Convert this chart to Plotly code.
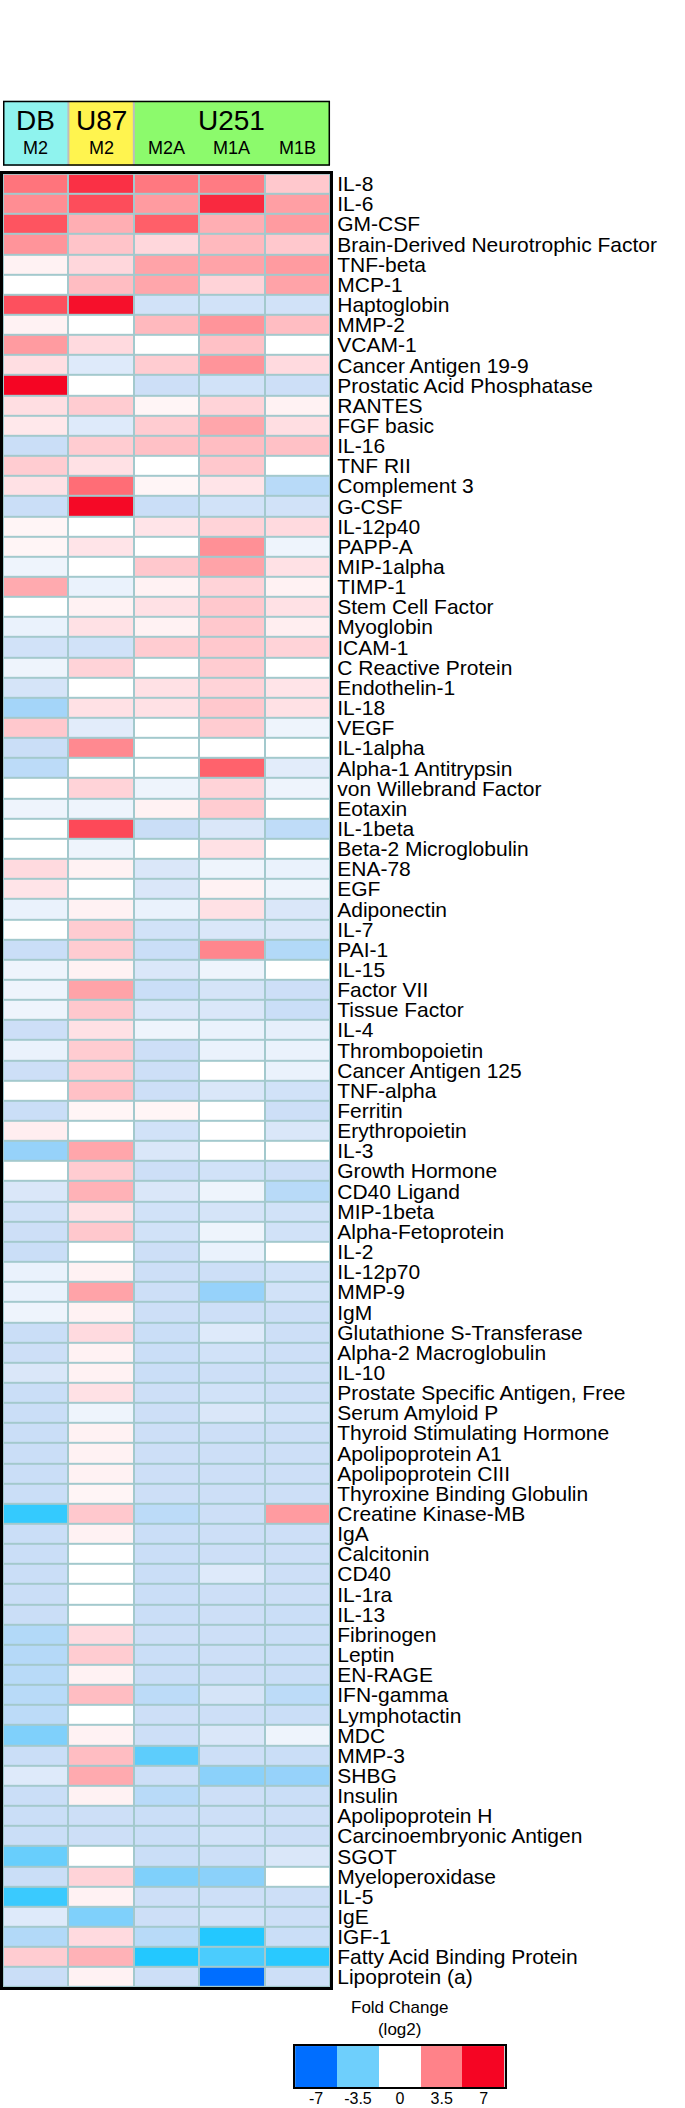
import plotly.graph_objects as go

W, H = 685, 2108

# column groups (cell line) and sub labels
groups = ["DB", "U87", "U251"]
group_span = [1, 1, 3]
group_colors = ["#8ff3ee", "#fff44f", "#8cfa6c"]
sub_labels = ["M2", "M2", "M2A", "M1A", "M1B"]

analytes = [
    "IL-8", "IL-6", "GM-CSF", "Brain-Derived Neurotrophic Factor", "TNF-beta",
    "MCP-1", "Haptoglobin", "MMP-2", "VCAM-1", "Cancer Antigen 19-9",
    "Prostatic Acid Phosphatase", "RANTES", "FGF basic", "IL-16", "TNF RII",
    "Complement 3", "G-CSF", "IL-12p40", "PAPP-A", "MIP-1alpha",
    "TIMP-1", "Stem Cell Factor", "Myoglobin", "ICAM-1", "C Reactive Protein",
    "Endothelin-1", "IL-18", "VEGF", "IL-1alpha", "Alpha-1 Antitrypsin",
    "von Willebrand Factor", "Eotaxin", "IL-1beta", "Beta-2 Microglobulin", "ENA-78",
    "EGF", "Adiponectin", "IL-7", "PAI-1", "IL-15",
    "Factor VII", "Tissue Factor", "IL-4", "Thrombopoietin", "Cancer Antigen 125",
    "TNF-alpha", "Ferritin", "Erythropoietin", "IL-3", "Growth Hormone",
    "CD40 Ligand", "MIP-1beta", "Alpha-Fetoprotein", "IL-2", "IL-12p70",
    "MMP-9", "IgM", "Glutathione S-Transferase", "Alpha-2 Macroglobulin", "IL-10",
    "Prostate Specific Antigen, Free", "Serum Amyloid P", "Thyroid Stimulating Hormone",
    "Apolipoprotein A1", "Apolipoprotein CIII",
    "Thyroxine Binding Globulin", "Creatine Kinase-MB", "IgA", "Calcitonin", "CD40",
    "IL-1ra", "IL-13", "Fibrinogen", "Leptin", "EN-RAGE",
    "IFN-gamma", "Lymphotactin", "MDC", "MMP-3", "SHBG",
    "Insulin", "Apolipoprotein H", "Carcinoembryonic Antigen", "SGOT", "Myeloperoxidase",
    "IL-5", "IgE", "IGF-1", "Fatty Acid Binding Protein", "Lipoprotein (a)",
]

# log2 fold change per column, estimated from the colours
db_m2 = [
    3.9, 3.2, 4.8, 3.0, 0.4, 0.0, 4.9, 0.4, 2.8, 1.0,
    7.0, 1.0, 0.7, -1.3, 1.5, 0.9, -1.3, 0.3, 0.3, -0.4,
    2.4, 0.0, -0.5, -1.1, -0.4, -1.0, -2.4, 1.6, -1.3, -1.7,
    0.0, -0.4, 0.0, 0.0, 1.1, 0.8, -0.5, 0.0, -1.3, -0.4,
    -0.4, -0.4, -1.2, -0.5, -1.2, 0.0, -1.3, 0.5, -2.8, 0.0,
    -0.9, -1.1, -1.2, -1.3, -0.5, -0.5, -0.4, -1.3, -1.2, -0.9,
    -1.3, -1.3, -1.3, -1.3, -1.3, -1.3, -4.5, -1.3, -1.3, -1.3,
    -1.3, -1.3, -2.0, -1.9, -1.8, -1.8, -1.7, -3.2, -1.3, -0.8,
    -1.3, -1.3, -1.3, -3.6, -1.3, -4.4, -0.8, -2.0, 1.5, -1.3,
]
u87_m2 = [
    5.8, 5.0, 2.3, 1.7, 1.2, 1.9, 6.7, 0.0, 1.1, -0.8,
    0.0, 1.5, -0.8, 1.5, 0.9, 4.1, 6.9, 0.0, 0.8, 0.0,
    -0.5, 0.4, 0.9, -1.1, 1.3, 0.0, 0.9, -0.7, 3.3, 0.0,
    1.3, -0.4, 5.1, -0.4, 0.4, 0.0, 0.4, 1.5, 1.5, 0.4,
    2.6, 1.6, 0.9, 1.5, 1.5, 1.8, 0.3, 0.0, 2.5, 1.5,
    2.2, 0.9, 1.6, 0.0, 0.4, 2.6, 0.4, 1.1, 0.4, 0.4,
    0.9, -0.4, 0.4, 0.4, 0.4, 0.3, 1.6, 0.4, 0.0, 0.0,
    0.0, 0.0, 1.1, 1.5, 0.4, 1.9, 0.0, 0.4, 1.9, 2.4,
    0.4, -1.2, -1.2, 0.0, 1.3, 0.4, -3.2, 1.1, 2.2, 0.4,
]
u251_m2a = [
    3.8, 2.8, 4.5, 1.2, 2.6, 2.5, -1.1, 2.0, 0.0, 1.5,
    -1.2, 0.3, 1.5, 1.8, 0.0, 0.3, -1.3, 0.8, 0.0, 1.6,
    0.4, 0.9, 0.4, 1.5, 0.0, 0.9, 0.9, 0.0, 0.0, 0.0,
    -0.4, 0.4, -1.3, 0.0, -0.9, -0.9, -0.5, -1.1, -1.3, -0.9,
    -1.3, -0.9, -0.4, -1.2, -1.2, -1.2, 0.3, -1.1, -0.9, -1.2,
    -0.9, -1.1, -1.1, -1.2, -1.2, -1.2, -1.2, -1.3, -1.3, -1.3,
    -1.2, -1.2, -1.2, -1.2, -1.2, -1.2, -1.7, -1.3, -1.3, -1.3,
    -1.3, -1.3, -1.2, -1.3, -1.3, -1.7, -1.2, -1.2, -3.8, -1.2,
    -1.8, -1.3, -1.3, -1.3, -3.2, -1.2, -1.2, -1.8, -4.8, -1.2,
]
u251_m1a = [
    3.7, 6.0, 2.3, 2.0, 2.6, 1.3, -1.1, 3.0, 1.8, 3.0,
    -1.1, 1.3, 2.5, 1.9, 1.6, 0.8, -1.1, 1.3, 3.1, 2.6,
    1.3, 1.6, 1.6, 1.6, 1.5, 1.3, 1.6, 1.5, 0.0, 4.4,
    1.3, 1.5, -0.9, 0.9, -0.4, 0.4, 0.9, -0.9, 3.4, -0.4,
    -1.0, -0.9, -0.5, -0.5, 0.0, -0.9, 0.0, 0.0, 0.0, -1.1,
    -0.4, -1.0, -0.4, -0.5, -1.2, -2.8, -1.2, -0.8, -1.1, -1.2,
    -1.1, -0.9, -1.2, -1.2, -1.2, -1.2, -1.2, -1.2, -1.2, -0.8,
    -1.2, -1.2, -1.2, -1.2, -1.2, -1.0, -1.2, -0.9, -1.2, -3.0,
    -1.2, -1.2, -1.1, -1.2, -3.0, -1.2, -1.1, -4.8, -4.1, -7.0,
]
u251_m1b = [
    1.6, 2.7, 2.8, 1.6, 2.8, 2.6, -1.1, 1.9, 0.0, 1.1,
    -1.2, 0.4, 1.0, 1.8, 0.0, -1.8, -1.1, 1.1, -0.4, 0.9,
    0.4, 0.9, 0.5, 1.3, 0.0, 0.8, 0.9, -0.4, 0.0, -0.7,
    -0.4, 0.0, -1.6, 0.0, -0.5, -0.4, -0.9, -0.9, -2.0, 0.0,
    -1.2, -1.3, -0.6, -0.5, -0.5, -1.1, -1.2, -0.9, 0.0, -1.2,
    -1.8, -1.1, -1.1, 0.0, -1.1, -1.1, -1.2, -1.2, -1.2, -1.2,
    -1.2, -1.1, -1.2, -1.2, -1.2, -1.2, 2.8, -1.2, -1.2, -1.2,
    -1.2, -1.3, -1.3, -1.3, -1.3, -1.7, -1.3, -0.4, -1.3, -2.8,
    -1.3, -1.2, -1.2, -0.9, 0.0, -1.2, -1.2, -1.3, -4.7, -1.2,
]

legend_values = [-7, -3.5, 0, 3.5, 7]
legend_labels = ["-7", "-3.5", "0", "3.5", "7"]

colorscale = [
    [0.0, "rgb(0,110,255)"],
    [0.157, "rgb(35,200,255)"],
    [0.3, "rgb(150,210,250)"],
    [0.414, "rgb(205,223,247)"],
    [0.5, "rgb(255,255,255)"],
    [0.586, "rgb(255,215,220)"],
    [0.7, "rgb(255,155,160)"],
    [0.821, "rgb(255,95,105)"],
    [1.0, "rgb(245,5,35)"],
]

FONT = "Arial, Liberation Sans, sans-serif"
ncol = len(sub_labels)
cols = list(range(ncol))
z = [list(r) for r in zip(db_m2, u87_m2, u251_m2a, u251_m1a, u251_m1b)]

# pixel frame of the panels
HM_L, HM_R, HM_T, HM_B = 1, 329, 172, 1988
HD_T, HD_B = 99, 164
LG_L, LG_R, LG_T, LG_B = 294, 504, 2047, 2088


def px_x(v):
    return v / W


def px_y(v):
    return 1 - v / H


fig = go.Figure()

fig.add_trace(go.Heatmap(
    z=z, x=cols, y=analytes, zmin=-7, zmax=7, colorscale=colorscale,
    showscale=False, xgap=2, ygap=2, hoverinfo="skip",
))

# legend key
fig.add_trace(go.Heatmap(
    z=[legend_values], x=legend_labels, y=[0], zmin=-7, zmax=7,
    colorscale=colorscale, showscale=False, xaxis="x3", yaxis="y3",
    hoverinfo="skip",
))

fig.update_layout(
    width=W, height=H, margin=dict(l=0, r=0, t=0, b=0),
    paper_bgcolor="white", plot_bgcolor="#a3c9cd",
    font=dict(family=FONT, color="black"),
    xaxis=dict(domain=[px_x(HM_L), px_x(HM_R)], range=[-0.5, ncol - 0.5],
               showticklabels=False, ticks="", showgrid=False, zeroline=False,
               showline=True, mirror=True, linecolor="black", linewidth=3),
    yaxis=dict(domain=[px_y(HM_B), px_y(HM_T)], autorange="reversed",
               side="right", ticks="", showgrid=False, zeroline=False,
               tickmode="array", tickvals=analytes, ticktext=analytes,
               tickfont=dict(size=21, family=FONT), ticklabelstandoff=0,
               showline=True, mirror=True, linecolor="black", linewidth=3),
    xaxis2=dict(domain=[px_x(HM_L), px_x(HM_R)], range=[-0.5, ncol - 0.5],
                anchor="y2", visible=False),
    yaxis2=dict(domain=[px_y(HD_B), px_y(HD_T)], range=[0, 1], anchor="x2",
                visible=False),
    xaxis3=dict(domain=[px_x(LG_L), px_x(LG_R)], anchor="y3", ticks="",
                tickfont=dict(size=16, family=FONT), showgrid=False,
                ticklabelstandoff=-4,
                showline=True, mirror=True, linecolor="black", linewidth=2),
    yaxis3=dict(domain=[px_y(LG_B), px_y(LG_T)], anchor="x3",
                showticklabels=False, ticks="", showgrid=False, zeroline=False,
                showline=True, mirror=True, linecolor="black", linewidth=2),
)

# header blocks
shapes = []
annotations = []
start = 0
for g, span, col in zip(groups, group_span, group_colors):
    x0 = start - 0.5
    x1 = start + span - 0.5
    shapes.append(dict(type="rect", xref="x2", yref="y2", x0=x0, x1=x1, y0=0, y1=1,
                       fillcolor=col, line=dict(width=0), layer="below"))
    annotations.append(dict(text=g, xref="x2", yref="y2", x=(x0 + x1) / 2, y=0.69,
                            showarrow=False, font=dict(size=28, family=FONT)))
    if start > 0:
        shapes.append(dict(type="line", xref="x2", yref="y2", x0=x0, x1=x0, y0=0, y1=1,
                           line=dict(color="#bdbdbd", width=2)))
    start += span
for i, s in enumerate(sub_labels):
    annotations.append(dict(text=s, xref="x2", yref="y2", x=i, y=0.27,
                            showarrow=False, font=dict(size=18, family=FONT)))
shapes.append(dict(type="rect", xref="x2", yref="y2", x0=-0.5, x1=ncol - 0.5, y0=0, y1=1,
                   line=dict(color="black", width=3)))

annotations.append(dict(text="Fold Change<br>(log2)", xref="paper", yref="paper",
                        x=px_x((LG_L + LG_R) / 2), y=px_y(LG_T - 5),
                        xanchor="center", yanchor="bottom",
                        showarrow=False, font=dict(size=17, family=FONT)))

fig.update_layout(shapes=shapes, annotations=annotations)

# drop the browser's default 8px body margin so the figure sits at the page corner
fig.write_html("out.html", config={"displayModeBar": False},
               post_script="document.body.style.margin = '0';")
